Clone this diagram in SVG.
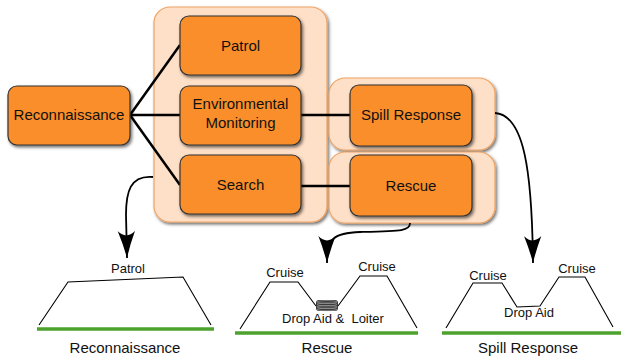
<svg xmlns="http://www.w3.org/2000/svg" width="621" height="358" viewBox="0 0 621 358">
<style>
.cont{fill:#FEDFC7;stroke:#F0A464;stroke-width:1.2;filter:url(#sh)}
.box{fill:#FA8E2C;stroke:#333;stroke-width:1.2;filter:url(#sh)}
.bt{font-family:"Liberation Sans",Arial,sans-serif;font-size:15px;fill:#111;text-anchor:middle}
.pt{font-family:"Liberation Sans",Arial,sans-serif;font-size:13px;fill:#111;text-anchor:middle}
.lt{font-family:"Liberation Sans",Arial,sans-serif;font-size:15px;fill:#111;text-anchor:middle}
.conn{stroke:#000;stroke-width:2.5;fill:none}
.arr{stroke:#000;stroke-width:1.8;fill:none;marker-end:url(#ah)}
.prof{stroke:#000;stroke-width:1.1;fill:none}
.gnd{stroke:#4DA22E;stroke-width:3.5}
</style>
<defs>
<filter id="sh" x="-10%" y="-10%" width="130%" height="130%">
<feDropShadow dx="1.5" dy="2" stdDeviation="1.6" flood-color="#000" flood-opacity="0.55"/>
</filter>
<marker id="ah" markerUnits="userSpaceOnUse" markerWidth="28" markerHeight="18" refX="25" refY="8" orient="auto" viewBox="0 0 26 16">
<path d="M0,0 Q13,5 25,8 Q13,11 0,16 Q8,8 0,0 Z" fill="#000"/>
</marker>
</defs>
<g id="group-main"><rect class="cont" x="154" y="7" width="173" height="215" rx="16"/></g>
<g id="group-spill"><rect class="cont" x="329" y="78" width="166" height="72" rx="16"/></g>
<g id="group-rescue"><rect class="cont" x="329" y="152" width="166" height="71" rx="16"/></g>
<g id="connectors">
<line class="conn" x1="130" y1="115" x2="180" y2="45"/>
<line class="conn" x1="130" y1="115" x2="180" y2="115"/>
<line class="conn" x1="130" y1="115" x2="180" y2="185"/>
<line class="conn" x1="301" y1="115" x2="350" y2="115"/>
<line class="conn" x1="301" y1="186" x2="350" y2="186"/>
<path class="arr" d="M153,177 C130,175 126,192 126,215 L127,258"/>
<path class="arr" d="M410,223 C410,231 402,231 360,232 C334,233 327,238 327,263"/>
<path class="arr" d="M495,113 C524,115 532,170 533,263"/>
</g>
<g id="node-reconnaissance"><rect class="box" x="8" y="86" width="122" height="59" rx="9"/><text class="bt" x="69" y="120">Reconnaissance</text></g>
<g id="node-patrol"><rect class="box" x="180" y="16" width="121" height="59" rx="9"/><text class="bt" x="240.5" y="51">Patrol</text></g>
<g id="node-env"><rect class="box" x="180" y="86" width="121" height="59" rx="9"/><text class="bt" x="240.5" y="109">Environmental</text><text class="bt" x="240.5" y="128">Monitoring</text></g>
<g id="node-search"><rect class="box" x="180" y="155" width="121" height="59" rx="9"/><text class="bt" x="240.5" y="190">Search</text></g>
<g id="node-spill"><rect class="box" x="350" y="85" width="122" height="61" rx="9"/><text class="bt" x="411" y="120">Spill Response</text></g>
<g id="node-rescue"><rect class="box" x="350" y="155" width="122" height="61" rx="9"/><text class="bt" x="411" y="191">Rescue</text></g>
<g id="profile-recon">
<polyline class="prof" points="39,325 68,282 183,277 211,325"/>
<line class="gnd" x1="37" y1="329" x2="214" y2="329"/>
<text class="pt" x="128" y="273">Patrol</text>
<text class="lt" x="125" y="353">Reconnaissance</text>
</g>
<g id="profile-rescue">
<polyline class="prof" points="240,329 270,282 298,282 316,306"/>
<polyline class="prof" points="338,306 360,276 387,276 417,328"/>
<rect x="316" y="300" width="22" height="11" rx="3" fill="#3a3a3a"/>
<g stroke="#aaa" stroke-width="0.6" fill="none">
<ellipse cx="327" cy="302" rx="10" ry="1.4"/>
<ellipse cx="327" cy="304.5" rx="10" ry="1.4"/>
<ellipse cx="327" cy="307" rx="10" ry="1.4"/>
<ellipse cx="327" cy="309.5" rx="10" ry="1.2"/>
</g>
<line class="gnd" x1="235" y1="333" x2="418" y2="333"/>
<text class="pt" x="285" y="277">Cruise</text>
<text class="pt" x="377" y="271">Cruise</text>
<text class="pt" x="333" y="323">Drop Aid &amp;&#160; Loiter</text>
<text class="lt" x="327" y="353">Rescue</text>
</g>
<g id="profile-spill">
<polyline class="prof" points="446,328 473,283 502,283 517,307 540,306 559,277 585,277 613,327"/>
<line class="gnd" x1="442" y1="333" x2="621" y2="333"/>
<text class="pt" x="488" y="280">Cruise</text>
<text class="pt" x="577" y="273">Cruise</text>
<text class="pt" x="529" y="317">Drop Aid</text>
<text class="lt" x="528" y="353">Spill Response</text>
</g>
</svg>
